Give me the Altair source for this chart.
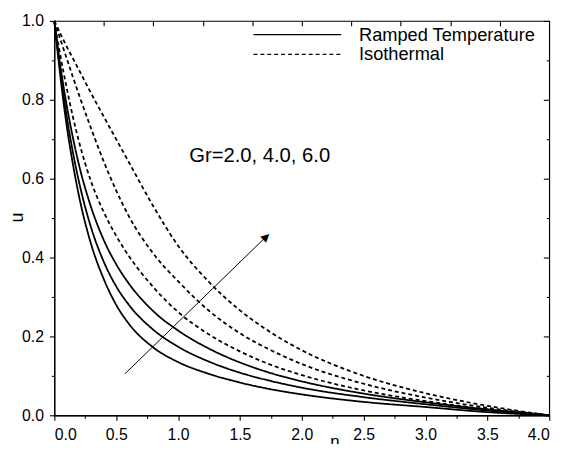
import altair as alt
import pandas as pd

# ---- curve data (eta, u), common eta grid ----
eta = [0, 0.05, 0.1, 0.15, 0.2, 0.3, 0.4, 0.5, 0.6, 0.8, 1.0, 1.25, 1.5, 1.75, 2.0, 2.5, 3.0, 3.5, 4.0]

# Ramped temperature, Gr = 2, 4, 6
s1_u = [1.0, 0.856, 0.734, 0.637, 0.555, 0.431, 0.345, 0.280, 0.233, 0.172, 0.135, 0.105, 0.083, 0.066, 0.053, 0.034, 0.021, 0.008, 0.0]
s2_u = [1.0, 0.868, 0.758, 0.667, 0.591, 0.473, 0.389, 0.327, 0.281, 0.217, 0.174, 0.136, 0.108, 0.087, 0.070, 0.046, 0.028, 0.012, 0.0]
s3_u = [1.0, 0.883, 0.786, 0.704, 0.634, 0.525, 0.444, 0.383, 0.335, 0.264, 0.215, 0.169, 0.134, 0.107, 0.086, 0.055, 0.033, 0.015, 0.0]

# Isothermal, Gr = 2, 4, 6
d1_u = [1.0, 0.91, 0.83, 0.757, 0.693, 0.59, 0.515, 0.455, 0.405, 0.325, 0.262, 0.205, 0.162, 0.128, 0.102, 0.063, 0.036, 0.015, 0.0]
d2_u = [1.0, 0.952, 0.905, 0.858, 0.812, 0.725, 0.643, 0.57, 0.506, 0.41, 0.34, 0.265, 0.208, 0.165, 0.13, 0.08, 0.045, 0.019, 0.0]
d3_u = [1.0, 0.967, 0.935, 0.905, 0.875, 0.815, 0.757, 0.70, 0.643, 0.53, 0.43, 0.338, 0.266, 0.21, 0.165, 0.1, 0.056, 0.024, 0.0]

styles = ["Ramped Temperature", "Isothermal"]

# ticks
x_major = [0.0, 0.5, 1.0, 1.5, 2.0, 2.5, 3.0, 3.5, 4.0]
x_minor = [0.25, 0.75, 1.25, 1.75, 2.25, 2.75, 3.25, 3.75]
x_top = [0.4, 0.8, 1.2, 1.6, 2.0, 2.4, 2.8, 3.2, 3.6]
y_major = [0.0, 0.2, 0.4, 0.6, 0.8, 1.0]
y_minor = [0.1, 0.3, 0.5, 0.7, 0.9]

# annotation
note_text = ["Gr=2.0, 4.0, 6.0"]
note_eta = [1.09]
note_u = [0.6575]
arrow_eta = [0.57, 1.712]
arrow_u = [0.105, 0.453]
head_mark = ["▲"]

curves = [
    ("s1", styles[0], s1_u),
    ("s2", styles[0], s2_u),
    ("s3", styles[0], s3_u),
    ("d1", styles[1], d1_u),
    ("d2", styles[1], d2_u),
    ("d3", styles[1], d3_u),
]
rows = []
for name, style, us in curves:
    for e, u in zip(eta, us):
        rows.append({"eta": e, "u": u, "curve": name, "style": style})
df = pd.DataFrame(rows)

frame_df = pd.DataFrame({"eta": [0, 4], "u": [0, 1]})
note_df = pd.DataFrame({"eta": note_eta, "u": note_u, "label": note_text})
arrow_df = pd.DataFrame({"eta": arrow_eta, "u": arrow_u})
head_df = pd.DataFrame({"eta": arrow_eta[-1:], "u": arrow_u[-1:], "label": head_mark})

FONT = "Liberation Sans"
TICKFONT = 16


def xs():
    return alt.Scale(domain=[0, 4], nice=False, zero=False)


def ys():
    return alt.Scale(domain=[0, 1], nice=False, zero=False)


lines = alt.Chart(df).mark_line(color="black", strokeWidth=1.8, interpolate="monotone").encode(
    x=alt.X("eta:Q", scale=xs(), axis=alt.Axis(
        orient="bottom", values=x_major, format=".1f", tickSize=5, labelPadding=7,
        labelFontSize=TICKFONT, labelFont=FONT,
        title="η", titleX=284, titleY=19, titleBaseline="top", titleFontSize=17,
        titleFontWeight="normal")),
    y=alt.Y("u:Q", scale=ys(), axis=alt.Axis(
        orient="left", values=y_major, format=".1f", tickSize=5, labelPadding=6,
        labelFontSize=TICKFONT, labelFont=FONT,
        title="u", titleX=-37, titleY=199, titleBaseline="middle", titleFontSize=18,
        titleFontWeight="normal")),
    detail="curve:N",
    strokeDash=alt.StrokeDash("style:N", scale=alt.Scale(domain=styles, range=[[1, 0], [4, 3]]),
                              legend=alt.Legend(
                                  title=None, orient="none", legendX=201, legendY=4,
                                  symbolType="stroke", symbolSize=7921, symbolStrokeWidth=1.3,
                                  symbolStrokeColor="black", clipHeight=20, rowPadding=0,
                                  labelOffset=17, labelFontSize=18.5, labelFont=FONT,
                                  labelLimit=400, labelColor="black", padding=0)),
)

minor = alt.Chart(frame_df).mark_point(opacity=0).encode(
    x=alt.X("eta:Q", scale=xs(), axis=alt.Axis(
        orient="bottom", values=x_minor, tickSize=3, labels=False, domain=False, title=None)),
    y=alt.Y("u:Q", scale=ys(), axis=alt.Axis(
        orient="left", values=y_minor, tickSize=3, labels=False, domain=False, title=None)),
)

inner_major = alt.Chart(frame_df).mark_point(opacity=0).encode(
    x=alt.X("eta:Q", scale=xs(), axis=alt.Axis(
        orient="top", values=x_top, tickSize=5, offset=-5, labels=False, domain=False, title=None)),
    y=alt.Y("u:Q", scale=ys(), axis=alt.Axis(
        orient="right", values=y_major, tickSize=6, offset=-6, labels=False, domain=False, title=None)),
)

inner_minor = alt.Chart(frame_df).mark_point(opacity=0).encode(
    x=alt.X("eta:Q", scale=xs(), axis=None),
    y=alt.Y("u:Q", scale=ys(), axis=alt.Axis(
        orient="right", values=y_minor, tickSize=3, offset=-3, labels=False, domain=False, title=None)),
)

note = alt.Chart(note_df).mark_text(align="left", baseline="middle", fontSize=20.5, font=FONT,
                                    color="black").encode(
    x=alt.X("eta:Q", scale=xs(), axis=None),
    y=alt.Y("u:Q", scale=ys(), axis=None),
    text="label:N",
)

arrow = alt.Chart(arrow_df).mark_line(color="black", strokeWidth=1).encode(
    x=alt.X("eta:Q", scale=xs(), axis=None),
    y=alt.Y("u:Q", scale=ys(), axis=None),
)

head = alt.Chart(head_df).mark_text(align="center", baseline="middle", fontSize=11,
                                    font="DejaVu Sans", color="black", angle=46).encode(
    x=alt.X("eta:Q", scale=xs(), axis=None),
    y=alt.Y("u:Q", scale=ys(), axis=None),
    text="label:N",
)

chart = alt.layer(lines, minor, inner_major, inner_minor, note, arrow, head).resolve_scale(
    x="independent", y="independent"
).properties(
    width=502, height=400,
    background="white",
    autosize=alt.AutoSizeParams(type="none"),
    padding={"left": 47, "top": 10, "right": 19, "bottom": 26},
).configure_view(
    stroke="black", strokeWidth=1.2
).configure_axis(
    grid=False, labelFont=FONT, titleFont=FONT, labelFontSize=TICKFONT, labelColor="black",
    titleColor="black", tickColor="black", domainColor="black", domainWidth=1.2, tickWidth=1.1
)

chart.save("out.html", embed_options={"renderer": "svg", "actions": False})
